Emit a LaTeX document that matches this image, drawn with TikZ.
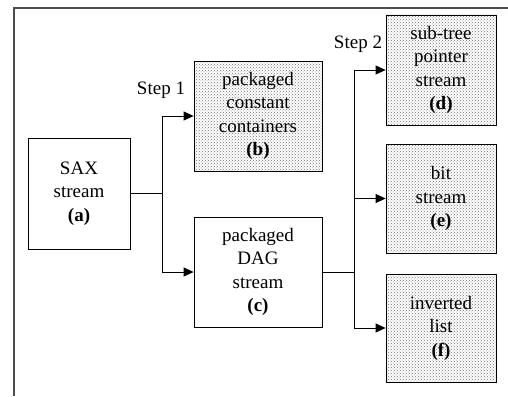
\documentclass[tikz,border=0pt]{standalone}
\usepackage{fontspec}
\setmainfont{Liberation Serif}
\usepackage{tikz}
\usetikzlibrary{arrows.meta,patterns}
\tikzset{
    %Define standard arrow tip
    >={Triangle[length=10pt,width=9pt]},
    %Define style for boxes
    plainbox/.style={
           rectangle,
           draw=black, thick,
           align=center,
           font=\fontsize{19}{23.5}\selectfont,
           inner sep=0pt},
    dotbox/.style={
           plainbox,
           pattern=crosshatch dots,
           pattern color=black!55},
    % Define arrow style
    pil/.style={
           ->,
           thick}
}
\begin{document}
\begin{tikzpicture}[x=1pt,y=-1pt]
\useasboundingbox (0,0) rectangle (508,396);
 %frame
\draw[black!70, line width=1.3pt] (14,396) -- (14,8) -- (508,8);
 %nodes
\node[plainbox, minimum width=102pt, minimum height=111pt](a) at (79,193.5)
    {SAX\\stream\\\textbf{(a)}};
\node[dotbox, minimum width=128pt, minimum height=110pt](b) at (258,116)
    {packaged\\constant\\containers\\\textbf{(b)}};
\node[plainbox, minimum width=128pt, minimum height=110pt](c) at (258,272)
    {packaged\\DAG\\stream\\\textbf{(c)}};
\node[dotbox, minimum width=110pt, minimum height=110pt](d) at (441,70)
    {sub-tree\\pointer\\stream\\\textbf{(d)}};
\node[dotbox, minimum width=110pt, minimum height=109pt](e) at (441,198.5)
    {bit\\stream\\\textbf{(e)}};
\node[dotbox, minimum width=110pt, minimum height=108pt](f) at (441,328)
    {inverted\\list\\\textbf{(f)}};
 %labels
\node[font=\fontsize{19}{23.5}\selectfont](step1) at (161,90) {Step 1};
\node[font=\fontsize{19}{23.5}\selectfont](step2) at (358,44) {Step 2};
 %connectors
\coordinate (s1) at (162,193.5);
\coordinate (s2) at (354,272);
\draw[thick] (a) -- (s1);
\draw[pil] (s1) |- (b);
\draw[pil] (s1) |- (c);
\draw[thick] (c) -- (s2);
\draw[pil] (s2) |- (d);
\draw[pil] (s2) |- (e);
\draw[pil] (s2) |- (f);
\end{tikzpicture}
\end{document}
